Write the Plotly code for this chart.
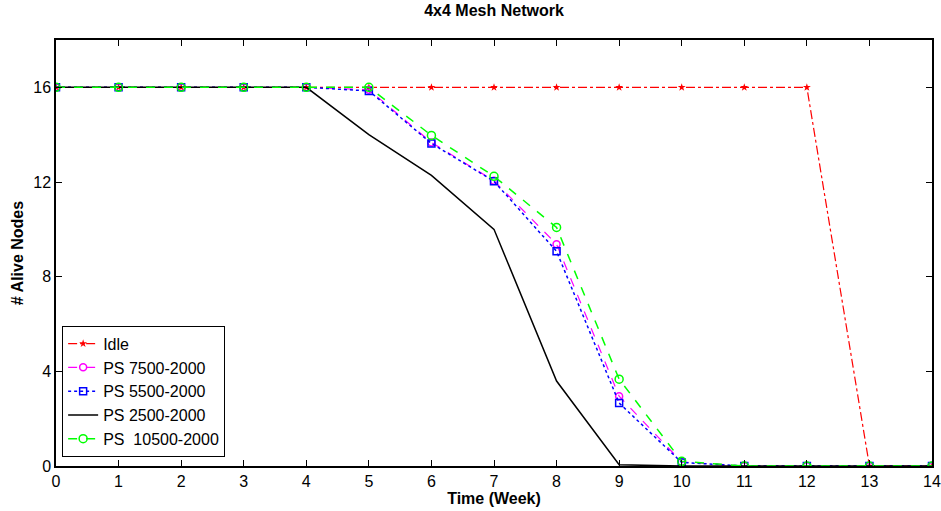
import plotly.graph_objects as go

weeks = list(range(15))
idle = [16, 16, 16, 16, 16, 16, 16, 16, 16, 16, 16, 16, 16, 0, 0]
ps7500 = [16, 16, 16, 16, 16, 15.9, 13.67, 12.05, 9.37, 2.95, 0.17, 0, 0, 0, 0]
ps5500 = [16, 16, 16, 16, 16, 15.85, 13.63, 12.03, 9.07, 2.66, 0.15, 0, 0, 0, 0]
ps2500 = [16, 16, 16, 16, 16, 14.0, 12.28, 10.0, 3.59, 0.05, 0, 0, 0, 0, 0]
ps10500 = [16, 16, 16, 16, 16, 16, 13.97, 12.24, 10.08, 3.67, 0.2, 0, 0, 0, 0]

FONT = "Liberation Sans, Arial"

fig = go.Figure()
fig.add_trace(go.Scatter(x=weeks, y=idle, name="Idle", mode="lines+markers",
                         line=dict(color="#FF0000", width=1.2, dash="dashdot"),
                         marker=dict(symbol="star", size=6, color="#FF0000")))
fig.add_trace(go.Scatter(x=weeks, y=ps7500, name="PS 7500-2000", mode="lines+markers",
                         line=dict(color="#FF00FF", width=1.2, dash="dash"),
                         marker=dict(symbol="circle-open", size=7, color="#FF00FF", line=dict(width=1.5))))
fig.add_trace(go.Scatter(x=weeks, y=ps5500, name="PS 5500-2000", mode="lines+markers",
                         line=dict(color="#0000FF", width=1.5, dash="dot"),
                         marker=dict(symbol="square-open", size=7, color="#0000FF", line=dict(width=1.5))))
fig.add_trace(go.Scatter(x=weeks, y=ps2500, name="PS 2500-2000", mode="lines",
                         line=dict(color="#000000", width=1.5)))
fig.add_trace(go.Scatter(x=weeks, y=ps10500, name="PS  10500-2000", mode="lines+markers",
                         line=dict(color="#00FF00", width=1.5, dash="dash"),
                         marker=dict(symbol="circle-open", size=8, color="#00FF00", line=dict(width=1.5))))

axis_common = dict(showgrid=False, zeroline=False, showline=True, linecolor="black",
                   linewidth=1.5, mirror="ticks", ticks="inside", ticklen=6, automargin=False,
                   tickcolor="black", tickfont=dict(family=FONT, size=16, color="black"))

fig.update_layout(
    width=941, height=511,
    margin=dict(l=56, r=9, t=40, b=45),
    paper_bgcolor="white", plot_bgcolor="white",
    title=dict(text="<b>4x4 Mesh Network</b>", x=0.525, xanchor="center", y=0.99, yanchor="top",
               font=dict(family=FONT, size=16, color="black")),
    xaxis=dict(range=[0, 14], tickmode="array", tickvals=weeks, ticklabelstandoff=0,
               title=dict(text="<b>Time (Week)</b>", standoff=0,
                          font=dict(family=FONT, size=16, color="black")),
               **axis_common),
    yaxis=dict(range=[0, 18], tickmode="array", tickvals=[0, 4, 8, 12, 16],
               ticklabelstandoff=0,
               title=dict(text="<b># Alive Nodes</b>", standoff=6,
                          font=dict(family=FONT, size=16, color="black")),
               **axis_common),
    legend=dict(x=0.007, y=0.022, xanchor="left", yanchor="bottom",
                bordercolor="black", borderwidth=1, bgcolor="white",
                font=dict(family=FONT, size=16, color="black"),
                tracegroupgap=0, itemwidth=30),
    showlegend=True,
)

fig.write_html("out.html")
